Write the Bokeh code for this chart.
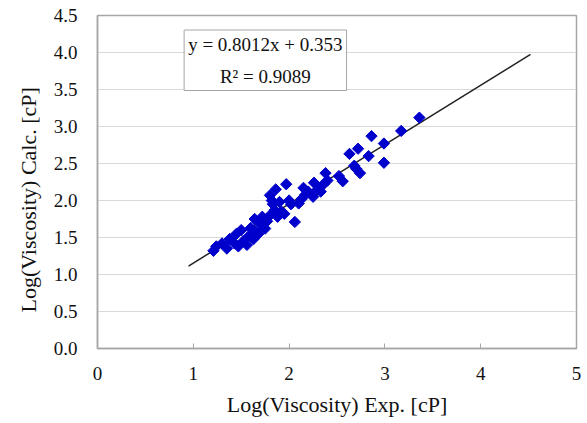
import numpy as np
from bokeh.plotting import figure
from bokeh.models import Range1d, FixedTicker, Label, NumeralTickFormatter, ColumnDataSource, Title
from bokeh.embed import file_html
from bokeh.resources import INLINE

# Data
x_exp = [1.21, 1.24, 1.30, 1.35, 1.38, 1.43, 1.47, 1.45, 1.50, 1.52, 1.56, 1.58, 1.60,
         1.63, 1.65, 1.64, 1.68, 1.70, 1.72, 1.75, 1.77, 1.80, 1.80, 1.83, 1.82, 1.85,
         1.86, 1.88, 1.90, 1.92, 1.97, 1.95, 2.00, 2.02, 2.06, 2.10, 2.13, 2.15, 2.17,
         2.20, 2.25, 2.26, 2.30, 2.33, 2.38, 2.36, 2.40, 2.52, 2.56, 2.63, 2.68, 2.70,
         2.72, 2.74, 2.83, 2.86, 2.99, 2.99, 3.17, 3.36]
y_calc = [1.32, 1.38, 1.42, 1.35, 1.48, 1.42, 1.38, 1.55, 1.60, 1.45, 1.40, 1.52, 1.63,
          1.48, 1.58, 1.75, 1.55, 1.68, 1.78, 1.62, 1.72, 1.80, 2.07, 1.95, 2.00, 1.87,
          2.15, 1.78, 1.98, 1.85, 2.22, 1.82, 2.00, 1.95, 1.71, 1.96, 2.02, 2.17, 2.08,
          2.12, 2.05, 2.24, 2.15, 2.12, 2.37, 2.22, 2.27, 2.33, 2.26, 2.63, 2.47, 2.43,
          2.70, 2.37, 2.60, 2.87, 2.77, 2.51, 2.94, 3.12]
slope = 0.8012
intercept = 0.353
r_squared = 0.9089
trend_x = [0.95, 4.52]
x_ticks = [0, 1, 2, 3, 4, 5]
y_ticks = [0.0, 0.5, 1.0, 1.5, 2.0, 2.5, 3.0, 3.5, 4.0, 4.5]

FONT = "Liberation Serif"

p = figure(width=587, height=423, output_backend="svg", toolbar_location=None,
           x_range=Range1d(0, 5), y_range=Range1d(0, 4.5),
           min_border_left=97, min_border_right=11, min_border_top=15, min_border_bottom=75)
p.background_fill_color = "white"
p.border_fill_color = "white"
p.outline_line_color = "#a6a6a6"
p.outline_line_width = 1.5

# grid
p.xgrid.grid_line_color = None
p.ygrid.grid_line_color = "#d9d9d9"
p.ygrid.grid_line_width = 1
p.ygrid.ticker = FixedTicker(ticks=y_ticks)

# x axis
p.xaxis.ticker = FixedTicker(ticks=x_ticks)
p.xaxis.axis_label = "Log(Viscosity) Exp. [cP]"
p.xaxis.axis_label_text_font = FONT
p.xaxis.axis_label_text_font_size = "22px"
p.xaxis.axis_label_text_font_style = "normal"
p.xaxis.axis_label_text_color = "#111111"
p.xaxis.axis_label_standoff = 9
p.xaxis.major_label_text_font = FONT
p.xaxis.major_label_text_font_size = "19px"
p.xaxis.major_label_text_color = "#111111"
p.xaxis.major_label_standoff = 18
p.xaxis.major_tick_in = 5
p.xaxis.major_tick_out = 0
p.xaxis.minor_tick_line_color = None
p.xaxis.axis_line_color = "#a6a6a6"
p.xaxis.axis_line_width = 1.5
p.xaxis.major_tick_line_color = "#a6a6a6"

# y axis
p.yaxis.ticker = FixedTicker(ticks=y_ticks)
p.yaxis.formatter = NumeralTickFormatter(format="0.0")
p.yaxis.major_label_text_font = FONT
p.yaxis.major_label_text_font_size = "19px"
p.yaxis.major_label_text_color = "#111111"
p.yaxis.major_label_standoff = 20
p.yaxis.major_tick_in = 0
p.yaxis.major_tick_out = 0
p.yaxis.minor_tick_line_color = None
p.yaxis.axis_line_color = "#a6a6a6"
p.yaxis.axis_line_width = 1.5

# trend line
trend_y = [slope * v + intercept for v in trend_x]
p.line(trend_x, trend_y, line_color="#222222", line_width=1.5)

# points
src = ColumnDataSource(dict(x=x_exp, y=y_calc))
p.scatter("x", "y", source=src, marker="square", angle=np.pi / 4, size=8,
          fill_color="#0000CC", line_color="#0000CC")

# equation box
eq = Label(x=1.752, y=3.895, text=f"y = {slope}x + {intercept}\nR\u00b2 = {r_squared}",
           text_font=FONT, text_font_size="19px", text_color="#111111",
           text_align="center", text_baseline="middle", text_line_height=1.5,
           border_line_color="#a6a6a6", border_line_width=1,
           background_fill_color="white", padding=4)
p.add_layout(eq)

# y axis label (as a left-side title, positioned to match the reference)
ylab = Title(text="Log(Viscosity) Calc. [cP]", align="left", offset=36,
             text_font=FONT, text_font_size="22px", text_font_style="normal",
             text_color="#111111", standoff=19)
p.add_layout(ylab, "left")

open("out.html", "w").write(file_html(p, INLINE))
